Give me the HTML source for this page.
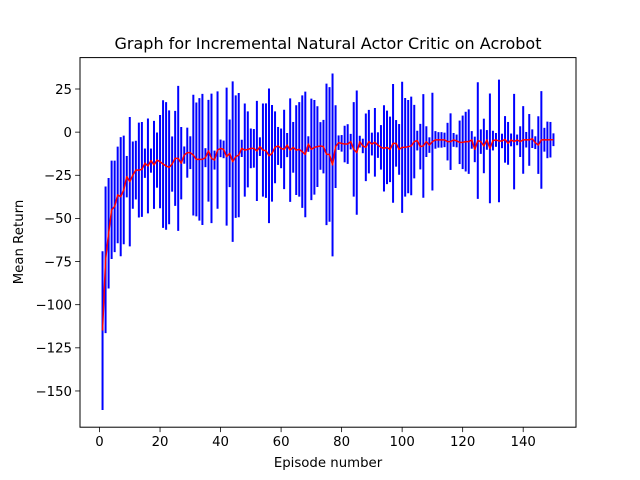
<!DOCTYPE html>
<html><head><meta charset="utf-8"><style>
html,body{margin:0;padding:0;background:#fff;}
svg{display:block;font-family:"DejaVu Sans","Liberation Sans",sans-serif;}
</style></head><body>
<svg id="chart" width="640" height="480" viewBox="0 0 640 480" xmlns="http://www.w3.org/2000/svg">
<rect width="640" height="480" fill="#fff"/>
<text x="328" y="49" text-anchor="middle" font-size="16">Graph for Incremental Natural Actor Critic on Acrobot</text>
<g id="marks"></g>
<rect x="80" y="57.6" width="496" height="369.6" fill="none" stroke="#000" stroke-width="1"/>
<g id="axes"></g>
<text x="328" y="467" text-anchor="middle" font-size="13.3">Episode number</text>
<text transform="translate(23,242) rotate(-90)" text-anchor="middle" font-size="13.3">Mean Return</text>
</svg>
<script>
const means = [-115,-74,-58.6,-45,-43,-36.4,-37.4,-33.5,-25.8,-28.7,-24.9,-22,-22,-21.6,-18,-19.6,-16.5,-19,-16.2,-17.1,-18.5,-19.6,-20.4,-18.5,-15.2,-15.2,-18,-13.3,-11.9,-11.9,-13.3,-15.8,-15.8,-15.8,-14.8,-10.8,-15.2,-16.2,-10.4,
-9.4,-10,-14.2,-12.3,-17.1,-14.2,-13.3,-9.4,-10.4,-10,-9.4,-9.4,-10.9,-8.4,-10.4,-10.7,-13.7,-12.3,-8.8,-8,-9.4,-10,-7.5,-10.4,-8.8,-10.4,-10,-11.3,-12.9,-6.9,-10,-8.8,-8.4,-8,-8.4,-12.9,-12.9,-19,-8.4,-6.1,-6.5,-6.9,
-6.9,-5.5,-10,-11.9,-5.5,-8,-8.8,-5.5,-6.9,-5.9,-7.5,-8.8,-9.4,-8.8,-10,-6.5,-6.5,-10,-8.8,-8.8,-8.4,-8,-5.5,-4.9,-8.4,-8,-5.5,-7.5,-5.5,-4.5,-4.5,-4.5,-4.5,-5.5,-5.5,-4.5,-5.1,-5.9,-5.9,-5.5,-5.5,
-4.5,-10,-4.9,-5.5,-8,-4.5,-9.4,-4.9,-4.5,-5.1,-5.1,-4.2,-6.5,-4.5,-5.5,-4.5,-5.5,-4.5,-4.4,-4.5,-3.8,-6.1,-7.5,-4.5,-4.4,-4.5,-4.4,-4.4];
const stds = [46,42.5,32,28.5,26.5,28,34.5,31.5,12,37.5,19.5,17,27.5,27.5,8.5,27.5,7,25.5,16,27,37,37,33,16,27.5,42,21,5,14.5,9.5,35,33,35.5,38,5.5,29.5,37.5,5.5,34,
5.1,5.1,40,19.6,46.5,35.5,36,5,27,22,11.5,11.2,29,5.4,27,27.4,39,28,20.8,11,11.5,23,7,30,14.7,26,27.4,32.6,36.4,4.5,29.4,27.4,23.4,13.8,15.5,41,39,53,24,4.2,4.8,10.6,
11.5,4.5,27.4,36,3.4,4.2,19.6,18.4,6.6,19.9,7.4,12.9,25,21.3,19,34.4,13.5,14.7,38,28.6,27,28.6,21.3,5.7,13.2,30,8.9,4.5,28.3,5.1,4.5,4.5,4.2,10.9,16.4,4,3.7,12.6,15.5,17.3,18.7,
5.1,7.4,33.8,7.1,15.8,5.7,31.8,5.7,4,35.5,4.2,13.5,12.4,3.7,27.7,3.1,8.9,19.6,4.5,15,5.4,3.7,16.7,28.3,6.9,10.6,10.3,3.7];
const xTicks = [0,20,40,60,80,100,120,140];
const yTicks = [-150,-125,-100,-75,-50,-25,0,25];

const NS = "http://www.w3.org/2000/svg";
const X0 = 80, X1 = 576, Y0 = 57.6, Y1 = 427.2;
const xMin = -6.45, xMax = 157.45;
const yMin = -171, yMax = 43.2;
function sx(v){ return X0 + (v - xMin) / (xMax - xMin) * (X1 - X0); }
function sy(v){ return Y1 - (v - yMin) / (yMax - yMin) * (Y1 - Y0); }
function mk(tag, attrs){ const e = document.createElementNS(NS, tag); for (const k in attrs) e.setAttribute(k, attrs[k]); return e; }

const marks = document.getElementById('marks');
means.forEach((m, i) => {
  const x = sx(i + 1);
  const l = mk('line', {x1: x, x2: x, y1: sy(m + stds[i]), y2: sy(m - stds[i]), stroke: '#0000ff', 'stroke-width': 2});
  
  
  marks.appendChild(l);
});
const pts = means.map((m, i) => sx(i + 1).toFixed(2) + ',' + sy(m).toFixed(2)).join(' ');
const line = mk('polyline', {points: pts, fill: 'none', stroke: '#ff0000', 'stroke-width': 1.5, 'stroke-linejoin': 'round'});


marks.appendChild(line);

const axes = document.getElementById('axes');
xTicks.forEach(t => {
  const x = sx(t);
  const tk = mk('line', {x1: x, x2: x, y1: Y1, y2: Y1 + 4.9, stroke: '#000', 'stroke-width': 0.8});
  
  
  axes.appendChild(tk);
  const tx = mk('text', {x: x, y: Y1 + 19, 'text-anchor': 'middle', 'font-size': 13.3});
  
  
  tx.textContent = t;
  axes.appendChild(tx);
});
yTicks.forEach(t => {
  const y = sy(t);
  const tk = mk('line', {x1: X0 - 4.9, x2: X0, y1: y, y2: y, stroke: '#000', 'stroke-width': 0.8});
  
  
  axes.appendChild(tk);
  const tx = mk('text', {x: X0 - 8, y: y + 4.8, 'text-anchor': 'end', 'font-size': 13.3});
  
  
  tx.textContent = t < 0 ? '\u2212' + Math.abs(t) : t;
  axes.appendChild(tx);
});
</script>
</body></html>
